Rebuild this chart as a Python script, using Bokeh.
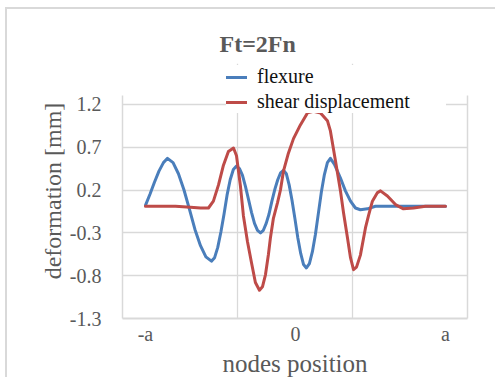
from bokeh.plotting import figure
from bokeh.models import Range1d, FixedTicker, LinearAxis, Legend, LegendItem
from bokeh.embed import file_html
from bokeh.resources import INLINE

# ---- chart content ----
title_text = "Ft=2Fn"
x_title = "nodes position"
y_title = "deformation [mm]"
series_names = ["flexure", "shear displacement"]
x_tick_values = [-1, 0, 1]
x_tick_labels = ["-a", "0", "a"]
y_tick_values = [-1.3, -0.8, -0.3, 0.2, 0.7, 1.2]
y_tick_labels = ["-1.3", "-0.8", "-0.3", "0.2", "0.7", "1.2"]

flexure_x = [-1.0, -0.97, -0.94, -0.91, -0.88, -0.853,
             -0.816, -0.78, -0.743, -0.706, -0.67, -0.633, -0.597, -0.56,
             -0.539, -0.518, -0.497, -0.476, -0.456, -0.435, -0.414, -0.393,
             -0.373, -0.353, -0.333, -0.313, -0.293, -0.273, -0.253, -0.233,
             -0.214, -0.195, -0.176, -0.157, -0.137, -0.118, -0.099, -0.08,
             -0.061, -0.042, -0.023, -0.003, 0.016, 0.035, 0.054, 0.073,
             0.093, 0.113, 0.133, 0.153, 0.173, 0.193, 0.213, 0.233,
             0.26, 0.3, 0.333, 0.367, 0.4, 0.433, 0.48, 0.533, 0.7, 1.0]
flexure_y = [0.02, 0.15, 0.29, 0.42, 0.52, 0.57,
             0.52, 0.39, 0.20, -0.03, -0.26, -0.45, -0.58, -0.63,
             -0.59, -0.47, -0.29, -0.08, 0.14, 0.32, 0.44, 0.48,
             0.45, 0.37, 0.24, 0.09, -0.06, -0.19, -0.27, -0.30,
             -0.27, -0.19, -0.08, 0.07, 0.21, 0.32, 0.40, 0.43,
             0.39, 0.26, 0.08, -0.14, -0.36, -0.54, -0.67, -0.71,
             -0.66, -0.52, -0.32, -0.07, 0.18, 0.38, 0.52, 0.57,
             0.5, 0.34, 0.19, 0.07, -0.01, -0.03, -0.02, 0.01, 0.01, 0.01]

shear_x = [-1.0, -0.9, -0.8, -0.7, -0.633, -0.58, -0.547, -0.513, -0.48, -0.447,
           -0.413, -0.393, -0.367, -0.347, -0.32, -0.293, -0.267, -0.24, -0.22, -0.2,
           -0.18, -0.167, -0.147, -0.12, -0.1, -0.08, -0.047, -0.013, 0.033, 0.08,
           0.12, 0.167, 0.213, 0.233, 0.267, 0.3, 0.32, 0.347, 0.367, 0.387,
           0.407, 0.433, 0.467, 0.487, 0.513, 0.547, 0.567, 0.613, 0.667, 0.72,
           0.787, 0.867, 1.0]
shear_y = [0.01, 0.01, 0.01, 0.0, -0.01, -0.01, 0.07, 0.26, 0.49, 0.65,
           0.69, 0.6, 0.25, -0.1, -0.4, -0.65, -0.88, -0.97, -0.93, -0.79,
           -0.55, -0.36, -0.13, 0.05, 0.2, 0.42, 0.63, 0.8, 0.96, 1.1,
           1.12, 1.1, 1.01, 0.89, 0.54, 0.19, -0.06, -0.36, -0.59, -0.73,
           -0.7, -0.56, -0.24, -0.1, 0.07, 0.17, 0.19, 0.13, 0.03, -0.02,
           -0.01, 0.01, 0.01]

# ---- styling ----
FONT = "Liberation Serif"
GRID = "#d9d9d9"
TXT = "#595959"
BLUE = "#4A7EBB"
RED = "#BE4B48"
AXIS_BOUNDS = (-1.3, 1.305)

p = figure(width=490, height=370, output_backend="svg", toolbar_location=None,
           x_range=Range1d(-1.153, 1.147), y_range=Range1d(-1.3, 1.677),
           min_border_left=115, min_border_right=30, min_border_top=54,
           min_border_bottom=60, outline_line_color=None,
           background_fill_color="white", border_fill_color="white",
           title=title_text)
p.margin = (7, 0, 0, 5)
p.styles = {"border-left": "2px solid #d9d9d9", "border-top": "2px solid #d9d9d9"}

p.title.align = "left"
p.title.offset = 97
p.title.standoff = 14
p.title.text_font = FONT
p.title.text_font_style = "bold"
p.title.text_font_size = "24px"
p.title.text_color = TXT

# x axis
xa = p.xaxis[0]
xa.ticker = FixedTicker(ticks=x_tick_values)
xa.major_label_overrides = {v: t for v, t in zip(x_tick_values, x_tick_labels)}
xa.major_tick_line_color = None
xa.minor_tick_line_color = None
xa.major_tick_out = 0
xa.major_tick_in = 0
xa.axis_line_color = GRID
xa.axis_line_width = 2
xa.major_label_text_font = FONT
xa.major_label_text_font_size = "20px"
xa.major_label_text_color = TXT
xa.major_label_standoff = 4
xa.axis_label = x_title
xa.axis_label_text_font = FONT
xa.axis_label_text_font_style = "normal"
xa.axis_label_text_font_size = "25px"
xa.axis_label_text_color = TXT
xa.axis_label_standoff = 2

# y axis
ya = p.yaxis[0]
ya.ticker = FixedTicker(ticks=y_tick_values)
ya.major_label_overrides = {v: t for v, t in zip(y_tick_values, y_tick_labels)}
ya.bounds = AXIS_BOUNDS
ya.major_tick_line_color = None
ya.minor_tick_line_color = None
ya.major_tick_out = 0
ya.major_tick_in = 0
ya.axis_line_color = GRID
ya.axis_line_width = 1.5
ya.major_label_text_font = FONT
ya.major_label_text_font_size = "20px"
ya.major_label_text_color = TXT
ya.major_label_standoff = 21
ya.axis_label = y_title
ya.axis_label_text_font = FONT
ya.axis_label_text_font_style = "normal"
ya.axis_label_text_font_size = "24px"
ya.axis_label_text_color = TXT
ya.axis_label_standoff = 1

# right frame edge
ra = LinearAxis(ticker=FixedTicker(ticks=[]), axis_line_color=GRID, axis_line_width=1.5,
                major_tick_line_color=None, minor_tick_line_color=None,
                major_label_text_font_size="0px", major_tick_out=0, major_tick_in=0,
                bounds=AXIS_BOUNDS)
p.add_layout(ra, "right")

# grids
p.xgrid.ticker = FixedTicker(ticks=[-0.3833, 0.3833])
p.xgrid.grid_line_color = GRID
p.xgrid.grid_line_width = 1.3
p.ygrid.ticker = FixedTicker(ticks=y_tick_values)
p.ygrid.grid_line_color = GRID
p.ygrid.grid_line_width = 1.3

# series
r1 = p.line(flexure_x, flexure_y, line_color=BLUE, line_width=3,
            line_join="round", line_cap="round")
r2 = p.line(shear_x, shear_y, line_color=RED, line_width=3,
            line_join="round", line_cap="round")

legend = Legend(items=[LegendItem(label=series_names[0], renderers=[r1]),
                       LegendItem(label=series_names[1], renderers=[r2])],
                location=(104, 205), orientation="vertical", padding=1, margin=0,
                spacing=2, label_height=20, glyph_height=20, glyph_width=21,
                label_standoff=10, label_width=189,
                label_text_font=FONT, label_text_font_size="20px",
                label_text_color="#111111", background_fill_color="white",
                background_fill_alpha=1.0, border_line_color=None)
p.add_layout(legend)

open("out.html", "w").write(file_html(p, INLINE))
